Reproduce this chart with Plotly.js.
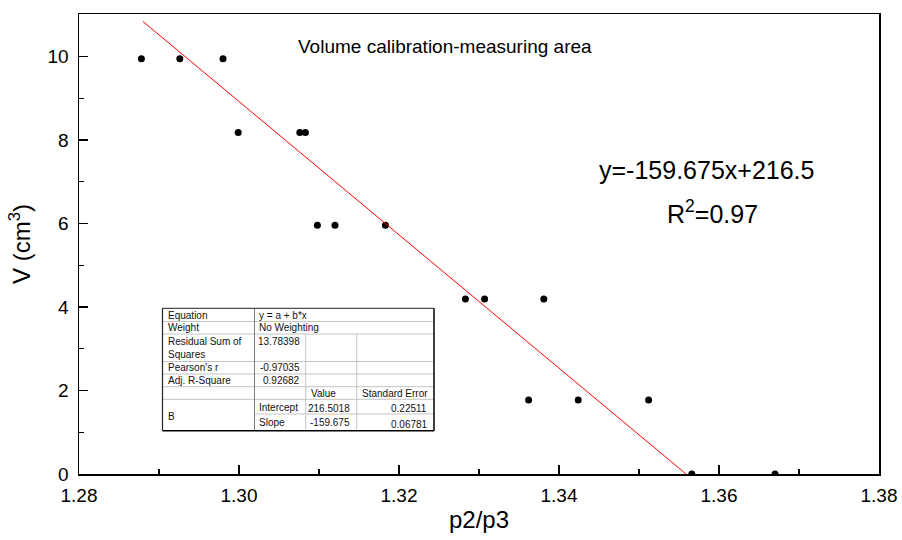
<!DOCTYPE html>
<html>
<head>
<meta charset="utf-8">
<script src="https://cdn.plot.ly/plotly-3.0.1.min.js"></script>
<style>html,body{margin:0;padding:0;background:#fff;}#chart{width:902px;height:540px;}</style>
</head>
<body>
<div id="chart"></div>
<script>
// ---- data ----
const ratioX = [1.2878, 1.2926, 1.2980, 1.2999, 1.3076, 1.3083, 1.3098, 1.3120, 1.3183,
                1.3283, 1.3307, 1.3381, 1.3362, 1.3424, 1.3512, 1.3566, 1.3670];
const volumeY = [9.95, 9.95, 9.95, 8.18, 8.18, 8.18, 5.96, 5.96, 5.96,
                 4.19, 4.19, 4.19, 1.77, 1.77, 1.77, 0, 0];
const fitX = [1.288, 1.35588];
const fitY = [10.84, 0];
const xTicks = [1.28, 1.30, 1.32, 1.34, 1.36, 1.38];
const xTickText = ['1.28', '1.30', '1.32', '1.34', '1.36', '1.38'];
const yTicks = [0, 2, 4, 6, 8, 10];
const yTickText = ['0', '2', '4', '6', '8', '10'];
const chartTitle = 'Volume calibration-measuring area';
const equationText = 'y=-159.675x+216.5';
const r2Text = 'R<sup>2</sup>=0.97';
// fit statistics table
const tableLabels = ['Equation', 'Weight', 'Residual Sum of<br>Squares', "Pearson's r", 'Adj. R-Square', 'B'];
const tableValues = ['y = a + b*x', 'No Weighting', '13.78398', '-0.97035', '0.92682'];
const paramHeader = ['Value', 'Standard Error'];
const paramNames = ['Intercept', 'Slope'];
const paramValues = ['216.5018', '-159.675'];
const paramErrors = ['0.22511', '0.06781'];

// ---- layout geometry (pixels) ----
const W = 902, H = 540;
const M = {l: 79, r: 23, t: 14, b: 66};
const PW = W - M.l - M.r, PH = H - M.t - M.b;
const px = x => (x - M.l) / PW;
const py = y => (H - M.b - y) / PH;
const FONT = 'Arial, Liberation Sans, sans-serif';

const shapes = [];
const annotations = [];
function hline(x0, x1, y, color, w) {
  shapes.push({type: 'line', xref: 'paper', yref: 'paper', x0: px(x0), x1: px(x1), y0: py(y), y1: py(y),
               line: {color: color, width: w}});
}
function vline(x, y0, y1, color, w) {
  shapes.push({type: 'line', xref: 'paper', yref: 'paper', x0: px(x), x1: px(x), y0: py(y0), y1: py(y1),
               line: {color: color, width: w}});
}
function cellText(t, x, y, align) {
  annotations.push({text: t, xref: 'paper', yref: 'paper', x: px(x), y: py(y), xanchor: align,
                    yanchor: 'middle', showarrow: false, align: 'left',
                    font: {family: FONT, size: 10, color: '#111'}});
}

// table grid
const C = [162.5, 254.5, 305.7, 356.7, 434];
const R = [308.3, 321.5, 334, 361.5, 374, 386.7, 399.3, 414, 430.7];
const light = '#c4c4c4';
for (let i = 1; i <= 6; i++) hline(C[0], C[4], R[i], light, 1);
hline(C[1], C[4], R[7], light, 1);
vline(C[2], R[2], R[8], light, 1);
vline(C[3], R[2], R[8], light, 1);
vline(C[1], R[0], R[8], '#7a7a7a', 1);
hline(C[0], C[4], R[0], '#222', 1);
hline(C[0], C[4], R[8], '#000', 1.5);
vline(C[0], R[0], R[8], '#222', 1.2);
vline(C[4], R[0], R[8], '#000', 1.5);

// table text
const labelY = [315, 327.7, 347.5, 367, 380.3];
for (let i = 0; i < 5; i++) cellText(tableLabels[i], 165.5, labelY[i], 'left');
cellText(tableLabels[5], 165.5, 416, 'left');
cellText(tableValues[0], 256.5, 315, 'left');
cellText(tableValues[1], 256.5, 327.7, 'left');
cellText(tableValues[2], 302, 341.5, 'right');
cellText(tableValues[3], 302, 367, 'right');
cellText(tableValues[4], 302, 380.3, 'right');
cellText(paramHeader[0], 308.5, 393.5, 'left');
cellText(paramHeader[1], 359.5, 393.5, 'left');
cellText(paramNames[0], 256.5, 407.5, 'left');
cellText(paramNames[1], 256.5, 422.5, 'left');
cellText(paramValues[0], 351.5, 408.5, 'right');
cellText(paramValues[1], 351.5, 422.5, 'right');
cellText(paramErrors[0], 429, 408.5, 'right');
cellText(paramErrors[1], 430, 424.5, 'right');

// chart texts
annotations.push({text: chartTitle, xref: 'paper', yref: 'paper', x: px(445), y: py(46),
                  xanchor: 'center', yanchor: 'middle', showarrow: false,
                  font: {family: FONT, size: 19, color: '#000'}});
annotations.push({text: equationText, xref: 'paper', yref: 'paper', x: px(706), y: py(170),
                  xanchor: 'center', yanchor: 'middle', showarrow: false,
                  font: {family: FONT, size: 25, color: '#000'}});
annotations.push({text: r2Text, xref: 'paper', yref: 'paper', x: px(712), y: py(212),
                  xanchor: 'center', yanchor: 'middle', showarrow: false,
                  font: {family: FONT, size: 25, color: '#000'}});

const traces = [
  {x: ratioX, y: volumeY, type: 'scatter', mode: 'markers',
   marker: {color: '#000', size: 7}, hoverinfo: 'x+y'},
  {x: fitX, y: fitY, type: 'scatter', mode: 'lines',
   line: {color: '#ff0000', width: 1}}
];

const axisFont = {family: FONT, size: 19, color: '#000'};
const layout = {
  width: W, height: H,
  margin: M,
  paper_bgcolor: '#fff', plot_bgcolor: '#fff',
  showlegend: false,
  font: {family: FONT, color: '#000'},
  xaxis: {
    range: [1.28, 1.38], tickvals: xTicks, ticktext: xTickText,
    ticks: 'inside', ticklen: 9, tickwidth: 1.5, tickcolor: '#000',
    minor: {ticks: 'inside', dtick: 0.01, tick0: 1.28, ticklen: 5, tickwidth: 1.2, tickcolor: '#000'},
    showline: true, linecolor: '#000', linewidth: 1.5, mirror: true,
    showgrid: false, zeroline: false, tickfont: axisFont, ticklabelstandoff: 4,
    title: {text: 'p2/p3', font: {family: FONT, size: 24, color: '#000'}, standoff: 6}
  },
  yaxis: {
    range: [0, 11.02], tickvals: yTicks, ticktext: yTickText,
    ticks: 'inside', ticklen: 9, tickwidth: 1.5, tickcolor: '#000',
    minor: {ticks: 'inside', dtick: 1, tick0: 0, ticklen: 5, tickwidth: 1.2, tickcolor: '#000'},
    showline: true, linecolor: '#000', linewidth: 1.5, mirror: true,
    showgrid: false, zeroline: false, tickfont: axisFont, ticklabelstandoff: 5,
    title: {text: 'V (cm<sup>3</sup>)', font: {family: FONT, size: 24, color: '#000'}, standoff: 10}
  },
  shapes: shapes,
  annotations: annotations
};

Plotly.newPlot('chart', traces, layout, {displayModeBar: false, staticPlot: true});
</script>
</body>
</html>
